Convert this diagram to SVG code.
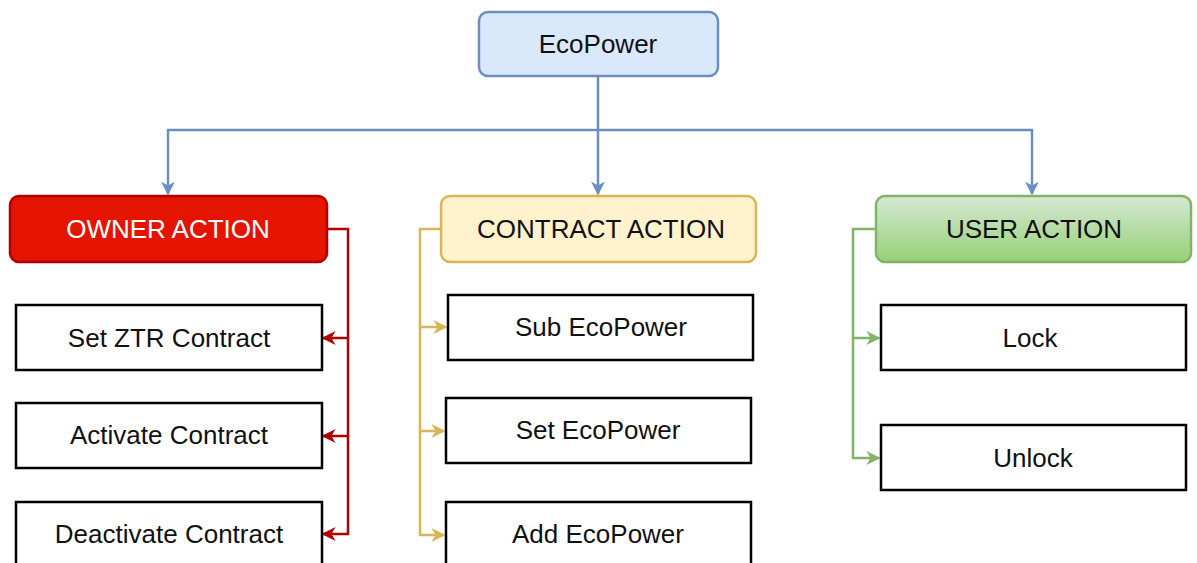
<svg xmlns="http://www.w3.org/2000/svg" width="1197" height="563" viewBox="0 0 1197 563">
<style>
text{font-family:"Liberation Sans",Arial,sans-serif;font-size:26px;text-anchor:middle;fill:#111}
.box{fill:#fff;stroke:#000;stroke-width:2.5}
.c{fill:none;stroke-width:2.5}
</style>
<defs>
<linearGradient id="g" x1="0" y1="0" x2="0" y2="1"><stop offset="0" stop-color="#d5e8d4"/><stop offset="1" stop-color="#97d077"/></linearGradient>
<marker id="ab" viewBox="0 0 10 10" refX="9" refY="5" markerWidth="14" markerHeight="14" markerUnits="userSpaceOnUse" orient="auto"><path d="M0,0 L10,5 L0,10 L3,5 z" fill="#6c8ebf"/></marker>
<marker id="ar" viewBox="0 0 10 10" refX="9" refY="5" markerWidth="14" markerHeight="14" markerUnits="userSpaceOnUse" orient="auto"><path d="M0,0 L10,5 L0,10 L3,5 z" fill="#b20000"/></marker>
<marker id="ay" viewBox="0 0 10 10" refX="9" refY="5" markerWidth="14" markerHeight="14" markerUnits="userSpaceOnUse" orient="auto"><path d="M0,0 L10,5 L0,10 L3,5 z" fill="#d6b656"/></marker>
<marker id="ag" viewBox="0 0 10 10" refX="9" refY="5" markerWidth="14" markerHeight="14" markerUnits="userSpaceOnUse" orient="auto"><path d="M0,0 L10,5 L0,10 L3,5 z" fill="#82b366"/></marker>
</defs>
<g id="connectors">
<path class="c" stroke="#6c8ebf" d="M598,77 V130"/>
<path class="c" stroke="#6c8ebf" d="M598,130 H168 V194" marker-end="url(#ab)"/>
<path class="c" stroke="#6c8ebf" d="M598,130 V194" marker-end="url(#ab)"/>
<path class="c" stroke="#6c8ebf" d="M598,130 H1032 V194" marker-end="url(#ab)"/>
<path class="c" stroke="#b20000" d="M328,229 H348 V338 H323" marker-end="url(#ar)"/>
<path class="c" stroke="#b20000" d="M348,338 V436 H323" marker-end="url(#ar)"/>
<path class="c" stroke="#b20000" d="M348,436 V534 H323" marker-end="url(#ar)"/>
<path class="c" stroke="#d6b656" d="M440,229 H420 V327 H446" marker-end="url(#ay)"/>
<path class="c" stroke="#d6b656" d="M420,327 V431 H444" marker-end="url(#ay)"/>
<path class="c" stroke="#d6b656" d="M420,431 V535 H444" marker-end="url(#ay)"/>
<path class="c" stroke="#82b366" d="M875,229 H853 V338 H879" marker-end="url(#ag)"/>
<path class="c" stroke="#82b366" d="M853,338 V458 H879" marker-end="url(#ag)"/>
</g>
<g id="ecopower"><rect x="479" y="12" width="239" height="64" rx="9" fill="#dae8fc" stroke="#6c8ebf" stroke-width="2.5"/><text x="598" y="53">EcoPower</text></g>
<g id="owner"><rect x="10" y="196" width="317" height="66" rx="9" fill="#e51400" stroke="#b20000" stroke-width="2.5"/><text x="168" y="238" style="fill:#fff">OWNER ACTION</text></g>
<g id="contract"><rect x="441" y="196" width="315" height="66" rx="9" fill="#fff2cc" stroke="#d6b656" stroke-width="2.5"/><text x="601" y="238">CONTRACT ACTION</text></g>
<g id="user"><rect x="876" y="196" width="315" height="66" rx="9" fill="url(#g)" stroke="#82b366" stroke-width="2.5"/><text x="1034" y="238">USER ACTION</text></g>
<g id="set-ztr"><rect class="box" x="16" y="305" width="306" height="65"/><text x="169" y="347">Set ZTR Contract</text></g>
<g id="activate"><rect class="box" x="16" y="403" width="306" height="65"/><text x="169" y="444">Activate Contract</text></g>
<g id="deactivate"><rect class="box" x="16" y="502" width="306" height="65"/><text x="169" y="543">Deactivate Contract</text></g>
<g id="sub"><rect class="box" x="448" y="295" width="305" height="65"/><text x="601" y="336">Sub EcoPower</text></g>
<g id="set-eco"><rect class="box" x="446" y="398" width="305" height="65"/><text x="598" y="439">Set EcoPower</text></g>
<g id="add-eco"><rect class="box" x="446" y="502" width="305" height="65"/><text x="598" y="543">Add EcoPower</text></g>
<g id="lock"><rect class="box" x="881" y="305" width="305" height="65"/><text x="1030" y="347">Lock</text></g>
<g id="unlock"><rect class="box" x="881" y="425" width="305" height="65"/><text x="1033" y="467">Unlock</text></g>
</svg>
